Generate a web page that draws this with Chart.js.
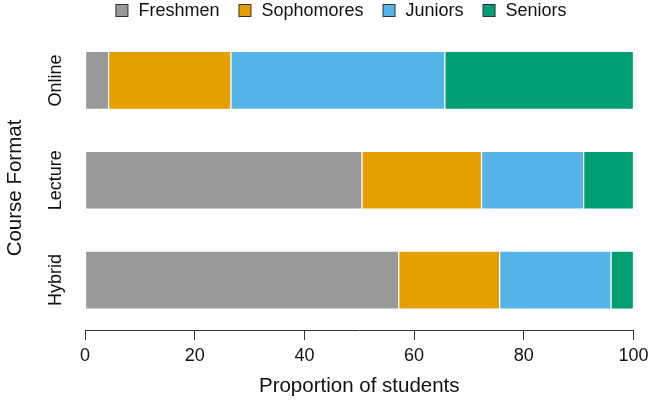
<!DOCTYPE html>
<html>
<head>
<meta charset="utf-8">
<script src="https://cdn.jsdelivr.net/npm/chart.js@4/dist/chart.umd.min.js"></script>
<style>
  html, body { margin: 0; padding: 0; background: #ffffff; }
  #wrap { width: 650px; height: 407px; }
</style>
</head>
<body>
<div id="wrap"><canvas id="c" width="650" height="407"></canvas></div>
<script>
// ---- data ----
const categories = ["Online", "Lecture", "Hybrid"];
const seriesNames = ["Freshmen", "Sophomores", "Juniors", "Seniors"];
const freshmen   = [4.3, 50.5, 57.2];
const sophomores = [22.3, 21.8, 18.4];
const juniors    = [39.0, 18.6, 20.3];
const seniors    = [34.4, 9.1, 4.1];
const xTicks = [0, 20, 40, 60, 80, 100];
const xTitle = "Proportion of students";
const yTitle = "Course Format";

// ---- styles ----
const colors = ["#999999", "#E69F00", "#56B4E9", "#009E73"];
const FONT = '"Liberation Sans", Arial, Helvetica, sans-serif';
const values = [freshmen, sophomores, juniors, seniors];

const datasets = seriesNames.map((name, i) => ({
  label: name,
  data: values[i],
  backgroundColor: colors[i],
  borderColor: "rgba(255,255,255,0.75)",
  borderWidth: 1,
  borderSkipped: false,
  barThickness: 58
}));

const customText = {
  id: "customText",
  afterDraw(chart) {
    const ctx = chart.ctx;
    const ys = chart.scales.y;
    ctx.save();
    ctx.fillStyle = "#111";
    // y category labels (rotated)
    ctx.font = "18px " + FONT;
    ctx.textAlign = "center";
    ctx.textBaseline = "middle";
    chart.data.labels.forEach((lab, i) => {
      const py = ys.getPixelForValue(i);
      ctx.save();
      ctx.translate(56, py);
      ctx.rotate(-Math.PI / 2);
      ctx.fillText(lab, 0, 0);
      ctx.restore();
    });
    // y axis title
    ctx.font = "20.5px " + FONT;
    ctx.save();
    ctx.translate(15, 188);
    ctx.rotate(-Math.PI / 2);
    ctx.fillText(yTitle, 0, 0);
    ctx.restore();
    // legend
    ctx.font = "18px " + FONT;
    const box = 12, gapText = 11, gapItem = 19;
    const ds = chart.data.datasets;
    const widths = ds.map(d => box + gapText + ctx.measureText(d.label).width);
    const total = widths.reduce((a, b) => a + b, 0) + gapItem * (ds.length - 1);
    let x = 341 - total / 2;
    const cy = 10;
    ds.forEach((d, i) => {
      ctx.fillStyle = d.backgroundColor;
      ctx.fillRect(x + 0.5, cy - box / 2 + 0.5, box, box);
      ctx.strokeStyle = "#333";
      ctx.lineWidth = 1;
      ctx.strokeRect(x + 0.5, cy - box / 2 + 0.5, box, box);
      ctx.fillStyle = "#111";
      ctx.textAlign = "left";
      ctx.fillText(d.label, x + box + gapText, cy + 1);
      x += widths[i] + gapItem;
    });
    ctx.restore();
  }
};

new Chart(document.getElementById("c"), {
  type: "bar",
  data: { labels: categories, datasets: datasets },
  options: {
    indexAxis: "y",
    responsive: false,
    animation: false,
    devicePixelRatio: 1,
    layout: { padding: { top: 30.5, right: 16.5, left: 0, bottom: 0 } },
    plugins: { legend: { display: false }, tooltip: { enabled: false } },
    scales: {
      x: {
        stacked: true,
        min: 0,
        max: 100,
        afterBuildTicks(scale) { scale.ticks = xTicks.map(v => ({ value: v })); },
        afterFit(scale) {
          scale.height = 77;
          scale.paddingLeft = 0;
          scale.paddingRight = 0;
        },
        ticks: {
          font: { size: 18, family: FONT },
          color: "#111",
          padding: 5,
          maxRotation: 0
        },
        grid: {
          drawOnChartArea: false,
          drawTicks: true,
          tickLength: 10,
          color: "#333",
          lineWidth: 1
        },
        border: { display: true, color: "#333", width: 1 },
        title: {
          display: true,
          text: xTitle,
          font: { size: 20.5, family: FONT },
          color: "#111",
          padding: { top: 0, bottom: 8 }
        }
      },
      y: {
        stacked: true,
        afterFit(scale) { scale.width = 85; },
        ticks: { display: false },
        grid: { display: false },
        border: { display: false }
      }
    }
  },
  plugins: [customText]
});
</script>
</body>
</html>
